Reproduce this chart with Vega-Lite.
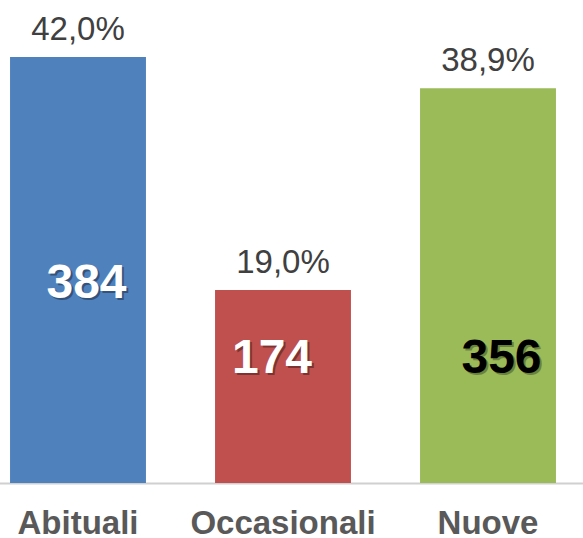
{
  "$schema": "https://vega.github.io/schema/vega-lite/v6.json",
  "width": 583,
  "height": 483,
  "autosize": {"type": "none"},
  "padding": {"left": 0, "top": 0, "right": 0, "bottom": 55},
  "background": "white",
  "config": {"view": {"stroke": null}},
  "data": {"values": [
    {"cat": "Abituali", "n": 384, "pct": "42,0%"},
    {"cat": "Occasionali", "n": 174, "pct": "19,0%"},
    {"cat": "Nuove", "n": 356, "pct": "38,9%"}
  ]},
  "encoding": {
    "x": {
      "field": "cat", "type": "nominal", "sort": null,
      "scale": {"range": [-24.5, 590.5], "paddingInner": 0.337, "paddingOuter": 0.1685},
      "axis": {
        "title": null, "labelAngle": 0, "ticks": false, "tickSize": 0, "grid": false,
        "domain": true, "domainColor": "#d0d0d0", "domainWidth": 2,
        "labelFont": "Liberation Sans", "labelFontWeight": "bold", "labelFontSize": 33,
        "labelColor": "#595959", "labelBaseline": "alphabetic", "labelPadding": 50,
        "labelLimit": 0, "labelOverlap": false
      }
    }
  },
  "layer": [
    {
      "mark": {"type": "bar"},
      "encoding": {
        "y": {"field": "n", "type": "quantitative", "scale": {"domain": [0, 435.5], "nice": false, "zero": true}, "axis": null},
        "color": {"field": "cat", "type": "nominal", "sort": null,
          "scale": {"domain": ["Abituali", "Occasionali", "Nuove"], "range": ["#4F81BD", "#C0504D", "#9BBB59"]},
          "legend": null}
      }
    },
    {
      "mark": {"type": "text", "baseline": "alphabetic", "dy": -17, "fontSize": 33, "font": "Liberation Sans", "color": "#404040"},
      "encoding": {"y": {"field": "n", "type": "quantitative"}, "text": {"field": "pct"}}
    },
    {
      "transform": [{"filter": "datum.cat === 'Abituali'"}],
      "mark": {"type": "text", "baseline": "alphabetic", "dx": 10.5, "dy": -183, "fontSize": 48, "fontWeight": "bold", "font": "Liberation Sans", "color": "#000000", "opacity": 0.35},
      "encoding": {"y": {"datum": 0, "type": "quantitative"}, "text": {"field": "n"}}
    },
    {
      "transform": [{"filter": "datum.cat === 'Abituali'"}],
      "mark": {"type": "text", "baseline": "alphabetic", "dx": 8.5, "dy": -185, "fontSize": 48, "fontWeight": "bold", "font": "Liberation Sans", "color": "#ffffff"},
      "encoding": {"y": {"datum": 0, "type": "quantitative"}, "text": {"field": "n"}}
    },
    {
      "transform": [{"filter": "datum.cat === 'Occasionali'"}],
      "mark": {"type": "text", "baseline": "alphabetic", "dx": -9, "dy": -108, "fontSize": 48, "fontWeight": "bold", "font": "Liberation Sans", "color": "#000000", "opacity": 0.35},
      "encoding": {"y": {"datum": 0, "type": "quantitative"}, "text": {"field": "n"}}
    },
    {
      "transform": [{"filter": "datum.cat === 'Occasionali'"}],
      "mark": {"type": "text", "baseline": "alphabetic", "dx": -11, "dy": -110, "fontSize": 48, "fontWeight": "bold", "font": "Liberation Sans", "color": "#ffffff"},
      "encoding": {"y": {"datum": 0, "type": "quantitative"}, "text": {"field": "n"}}
    },
    {
      "transform": [{"filter": "datum.cat === 'Nuove'"}],
      "mark": {"type": "text", "baseline": "alphabetic", "dx": 15.5, "dy": -108, "fontSize": 48, "fontWeight": "bold", "font": "Liberation Sans", "color": "#000000", "opacity": 0.3},
      "encoding": {"y": {"datum": 0, "type": "quantitative"}, "text": {"field": "n"}}
    },
    {
      "transform": [{"filter": "datum.cat === 'Nuove'"}],
      "mark": {"type": "text", "baseline": "alphabetic", "dx": 13.5, "dy": -110, "fontSize": 48, "fontWeight": "bold", "font": "Liberation Sans", "color": "#000000"},
      "encoding": {"y": {"datum": 0, "type": "quantitative"}, "text": {"field": "n"}}
    }
  ]
}
